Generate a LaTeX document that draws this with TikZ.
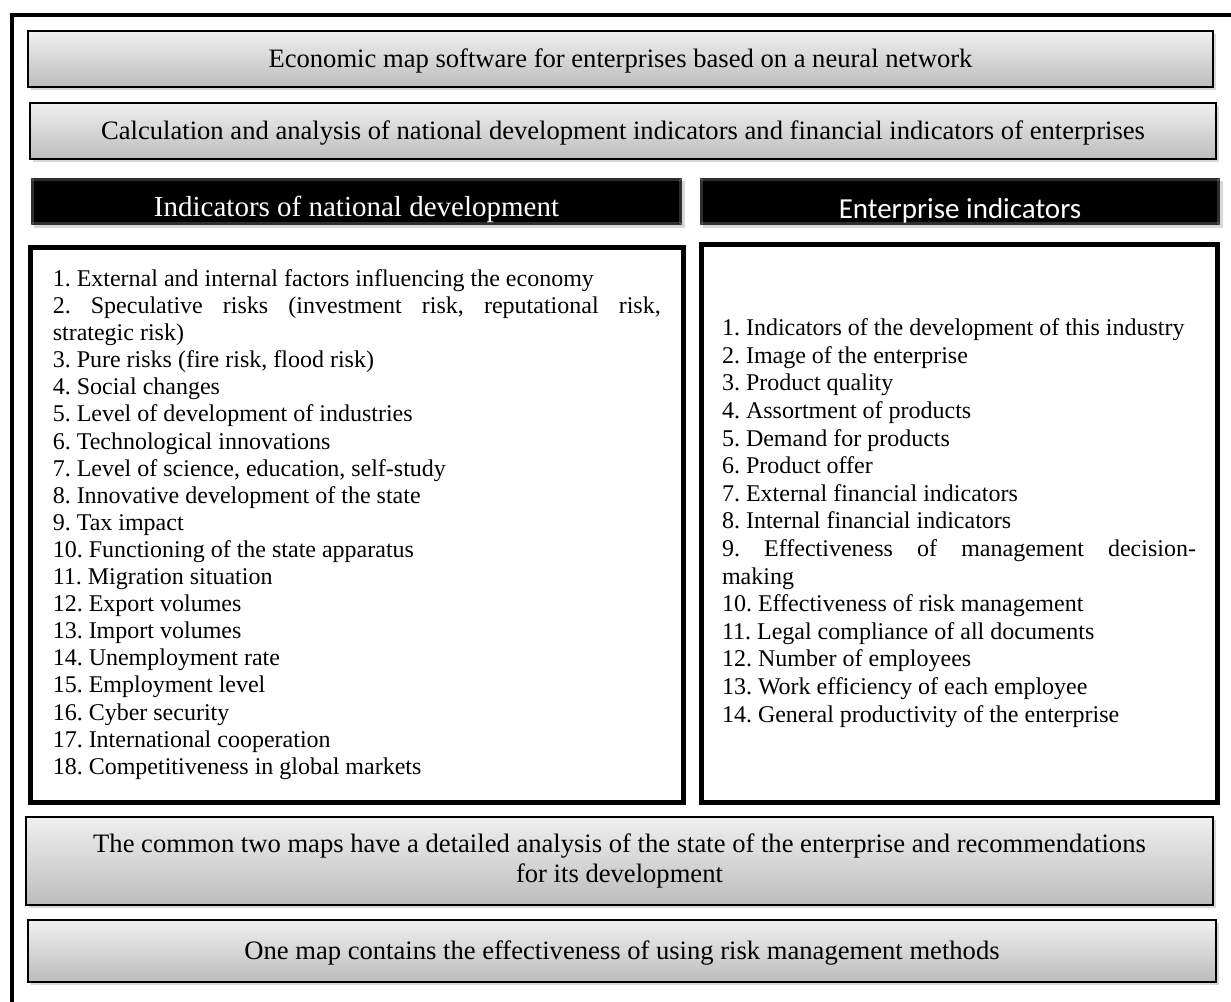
\documentclass[tikz,border=0pt]{standalone}
\usepackage{fontspec}
\setmainfont{Liberation Serif}
\newfontfamily\calib{Carlito}
\usetikzlibrary{shadows}
\setlength{\parindent}{0pt}
\frenchspacing
\begin{document}
\begin{tikzpicture}[x=1pt,y=-1pt,
  graybox/.style={draw=black, line width=2pt, top color=gray!12, bottom color=gray!52,
    drop shadow={shadow xshift=2.5pt, shadow yshift=-3pt, opacity=0.3},
    inner sep=0pt, align=center, font=\frenchspacing\fontsize{26.6}{30.6}\selectfont},
  headbox/.style={fill=black!82, draw=none, inner sep=0pt,
    drop shadow={shadow xshift=2.5pt, shadow yshift=-3pt, opacity=0.3}},
  headtext/.style={anchor=base, text=white, inner sep=0pt},
  listbox/.style={draw=black, line width=5pt, fill=white, inner sep=0pt, align=justify,
    drop shadow={shadow xshift=1.5pt, shadow yshift=-2pt, opacity=0.25}},
  bevel/.style={black!55, line width=0.7pt}
]
\useasboundingbox (0,0) rectangle (1231,1001);
\clip (0,0) rectangle (1231,1001);
\fill[white] (0,0) rectangle (1231,1001);
% outer frame (runs off the right and bottom edges)
\draw[line width=4pt] (12,14.5) rectangle (1270,1040);

% top boxes
\node[graybox, minimum width=1185pt, minimum height=56pt, text height=18pt, text depth=2pt] (b1) at (620.5,59)
  {Economic map software for enterprises based on a neural network};
\node[graybox, minimum width=1186pt, minimum height=56pt, text height=18pt, text depth=2pt] (b2) at (623,131)
  {Calculation and analysis of national development indicators and financial indicators of enterprises};

% headers
\node[headbox, minimum width=651pt, minimum height=47pt] (h1) at (356.5,201.5) {};
\node[headbox, minimum width=520pt, minimum height=47pt] (h2) at (960,201.5) {};
\foreach \h in {h1,h2}{
  \fill[black] ([shift={(3,3)}]\h.north west) rectangle ([shift={(-3,-3)}]\h.south east);
  \draw[bevel] (\h.north west) -- ++(3,3);
  \draw[bevel] (\h.north east) -- ++(-3,3);
  \draw[bevel] (\h.south west) -- ++(3,-3);
  \draw[bevel] (\h.south east) -- ++(-3,-3);
}
\begin{scope}
  \clip ([shift={(3,3)}]h1.north west) rectangle ([shift={(-3,-3)}]h1.south east);
  \node[headtext, font=\fontsize{29}{34}\selectfont] (t1) at (356.5,216) {Indicators of national development};
\end{scope}
\begin{scope}
  \clip ([shift={(3,3)}]h2.north west) rectangle ([shift={(-3,-3)}]h2.south east);
  \node[headtext, font=\calib\fontsize{29}{34}\selectfont] (t2) at (960,218) {Enterprise indicators};
\end{scope}

% lists
\node[listbox, minimum width=652.5pt, minimum height=555pt, text width=608pt,
      font=\frenchspacing\fontsize{24}{27.1}\selectfont] (L) at (356.75,524.5) {%
1. External and internal factors influencing the economy\par
2. Speculative risks (investment risk, reputational risk,\linebreak strategic risk)\par
3. Pure risks (fire risk, flood risk)\par
4. Social changes\par
5. Level of development of industries\par
6. Technological innovations\par
7. Level of science, education, self-study\par
8. Innovative development of the state\par
9. Tax impact\par
10. Functioning of the state apparatus\par
11. Migration situation\par
12. Export volumes\par
13. Import volumes\par
14. Unemployment rate\par
15. Employment level\par
16. Cyber security\par
17. International cooperation\par
18. Competitiveness in global markets};

\node[listbox, minimum width=516pt, minimum height=558pt, text width=474pt,
      font=\frenchspacing\fontsize{24}{27.6}\selectfont] (R) at (959,523) {%
1. Indicators of the development of this industry\par
2. Image of the enterprise\par
3. Product quality\par
4. Assortment of products\par
5. Demand for products\par
6. Product offer\par
7. External financial indicators\par
8. Internal financial indicators\par
9. Effectiveness of management decision-\linebreak making\par
10. Effectiveness of risk management\par
11. Legal compliance of all documents\par
12. Number of employees\par
13. Work efficiency of each employee\par
14. General productivity of the enterprise};

% bottom boxes
\node[graybox, minimum width=1187pt, minimum height=88pt] (b3) at (619.5,861)
  {The common two maps have a detailed analysis of the state of the enterprise and recommendations\\for its development};
\node[graybox, minimum width=1188pt, minimum height=62pt, text height=18pt, text depth=2pt] (b4) at (622,951)
  {One map contains the effectiveness of using risk management methods};
\end{tikzpicture}
\end{document}
